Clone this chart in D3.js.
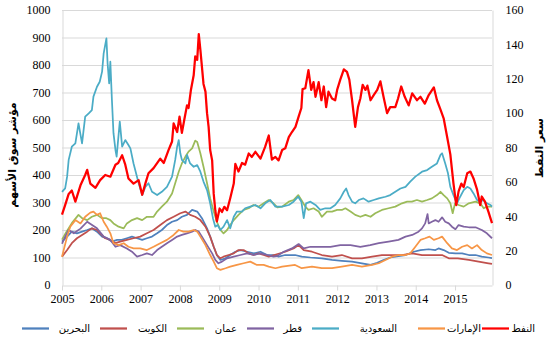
<!DOCTYPE html>
<html><head><meta charset="utf-8">
<script src="https://cdn.jsdelivr.net/npm/d3@7"></script>
<style>body{margin:0;background:#fff}svg{display:block}</style>
</head><body><svg id="c" width="555" height="348"></svg>
<script>
const yearTicks=[2005,2006,2007,2008,2009,2010,2011,2012,2013,2014,2015];
const leftTicks=[0,100,200,300,400,500,600,700,800,900,1000];
const rightTicks=[0,20,40,60,80,100,120,140,160];
const leftTitle="مؤشر سوق الأسهم";
const rightTitle="سعر النفط";
const names=["البحرين","الكويت","عمان","قطر","السعودية","الإمارات","النفط"];
const colors=["#4F81BD","#C0504D","#9BBB59","#8064A2","#4BACC6","#F79646","#FF0000"];

const bahrain=[[2005.00,158],[2005.13,176],[2005.25,194],[2005.38,188],[2005.51,194],[2005.64,200],[2005.76,206],[2005.89,194],[2006.02,176],[2006.14,170],[2006.27,158],[2006.40,164],[2006.52,164],[2006.65,170],[2006.78,176],[2006.91,170],[2007.04,164],[2007.16,170],[2007.29,176],[2007.42,188],[2007.54,200],[2007.67,218],[2007.80,230],[2007.93,236],[2008.05,248],[2008.18,255],[2008.31,273],[2008.44,267],[2008.56,243],[2008.69,206],[2008.77,176],[2008.86,139],[2008.94,109],[2009.03,91],[2009.16,97],[2009.28,109],[2009.41,121],[2009.54,127],[2009.71,121],[2009.88,115],[2010.05,121],[2010.22,109],[2010.39,109],[2010.51,103],[2010.68,109],[2010.93,109],[2011.10,103],[2011.32,100],[2011.61,97],[2011.87,91],[2012.12,88],[2012.38,85],[2012.63,79],[2012.85,73],[2013.02,81],[2013.18,91],[2013.35,100],[2013.56,105],[2013.74,109],[2013.95,121],[2014.12,127],[2014.33,130],[2014.50,127],[2014.58,133],[2014.71,127],[2014.84,117],[2015.01,115],[2015.18,115],[2015.35,109],[2015.52,109],[2015.68,103],[2015.85,100],[2015.94,98]];
const kuwait=[[2005.00,103],[2005.13,127],[2005.25,152],[2005.38,170],[2005.51,182],[2005.64,194],[2005.76,206],[2005.89,200],[2005.97,188],[2006.10,170],[2006.23,164],[2006.36,152],[2006.48,158],[2006.65,164],[2006.82,170],[2006.99,176],[2007.16,188],[2007.33,200],[2007.50,218],[2007.67,236],[2007.84,248],[2008.01,261],[2008.14,267],[2008.26,255],[2008.39,248],[2008.52,236],[2008.65,212],[2008.77,176],[2008.86,139],[2008.94,109],[2009.03,97],[2009.11,103],[2009.24,109],[2009.37,115],[2009.49,127],[2009.62,127],[2009.75,115],[2009.87,109],[2010.00,115],[2010.13,109],[2010.26,103],[2010.40,109],[2010.68,121],[2010.89,133],[2011.02,145],[2011.15,127],[2011.36,121],[2011.61,109],[2011.87,103],[2012.12,109],[2012.38,97],[2012.63,97],[2012.89,103],[2013.14,109],[2013.40,109],[2013.65,109],[2013.91,115],[2014.16,109],[2014.41,109],[2014.67,109],[2014.84,97],[2015.07,97],[2015.35,91],[2015.60,85],[2015.85,79],[2015.94,77]];
const oman=[[2005.00,165],[2005.10,190],[2005.25,225],[2005.42,255],[2005.51,243],[2005.64,236],[2005.76,248],[2005.89,255],[2006.02,243],[2006.13,243],[2006.23,236],[2006.31,224],[2006.44,212],[2006.57,206],[2006.65,224],[2006.78,236],[2006.91,243],[2007.04,236],[2007.16,248],[2007.33,248],[2007.42,267],[2007.54,285],[2007.67,303],[2007.80,333],[2007.88,370],[2007.97,412],[2008.05,442],[2008.14,467],[2008.22,485],[2008.31,497],[2008.39,525],[2008.44,520],[2008.52,479],[2008.60,430],[2008.69,370],[2008.77,315],[2008.86,267],[2008.94,230],[2009.03,200],[2009.11,188],[2009.20,200],[2009.28,218],[2009.37,236],[2009.49,255],[2009.62,273],[2009.75,279],[2009.87,291],[2010.00,285],[2010.13,297],[2010.26,309],[2010.38,297],[2010.48,282],[2010.60,285],[2010.77,303],[2010.89,309],[2011.01,327],[2011.09,309],[2011.19,285],[2011.27,273],[2011.40,279],[2011.53,267],[2011.61,248],[2011.74,267],[2011.87,267],[2012.00,273],[2012.12,273],[2012.21,279],[2012.34,267],[2012.46,255],[2012.59,248],[2012.72,255],[2012.85,248],[2012.97,261],[2013.14,273],[2013.31,279],[2013.48,285],[2013.65,297],[2013.78,303],[2013.90,303],[2014.03,309],[2014.16,303],[2014.29,309],[2014.41,315],[2014.54,327],[2014.63,339],[2014.71,327],[2014.80,315],[2014.88,297],[2014.94,261],[2015.00,297],[2015.09,291],[2015.22,285],[2015.35,297],[2015.52,303],[2015.64,297],[2015.73,279],[2015.81,285],[2015.94,285]];
const qatar=[[2005.00,150],[2005.08,175],[2005.17,200],[2005.30,188],[2005.47,205],[2005.64,230],[2005.89,206],[2006.06,176],[2006.23,164],[2006.36,139],[2006.48,145],[2006.65,133],[2006.78,121],[2006.91,103],[2007.04,109],[2007.16,115],[2007.29,109],[2007.42,127],[2007.54,139],[2007.67,152],[2007.80,164],[2007.93,176],[2008.05,182],[2008.18,188],[2008.31,194],[2008.39,200],[2008.48,194],[2008.56,176],[2008.69,145],[2008.82,115],[2008.90,91],[2008.98,79],[2009.07,85],[2009.20,97],[2009.37,103],[2009.54,109],[2009.71,115],[2009.88,109],[2010.05,115],[2010.22,109],[2010.38,103],[2010.47,105],[2010.64,121],[2010.85,133],[2011.02,149],[2011.15,133],[2011.32,139],[2011.57,139],[2011.83,139],[2012.08,145],[2012.34,145],[2012.59,139],[2012.84,145],[2013.06,152],[2013.31,158],[2013.56,164],[2013.74,176],[2013.91,182],[2014.07,194],[2014.16,206],[2014.24,224],[2014.30,258],[2014.33,224],[2014.41,230],[2014.50,236],[2014.58,230],[2014.67,246],[2014.75,230],[2014.84,224],[2014.92,212],[2015.01,203],[2015.09,218],[2015.22,212],[2015.35,210],[2015.52,210],[2015.68,200],[2015.81,188],[2015.94,170]];
const saudi=[[2005.00,339],[2005.08,351],[2005.13,394],[2005.17,455],[2005.25,503],[2005.34,515],[2005.42,588],[2005.51,515],[2005.59,612],[2005.68,624],[2005.76,636],[2005.80,685],[2005.89,721],[2005.96,739],[2006.02,776],[2006.06,842],[2006.13,897],[2006.16,806],[2006.20,733],[2006.23,812],[2006.27,673],[2006.31,552],[2006.36,491],[2006.39,467],[2006.47,594],[2006.53,503],[2006.61,527],[2006.69,509],[2006.74,497],[2006.82,442],[2006.95,370],[2007.04,327],[2007.12,357],[2007.20,370],[2007.29,339],[2007.42,327],[2007.54,339],[2007.67,357],[2007.80,394],[2007.88,455],[2007.93,503],[2007.97,527],[2008.01,479],[2008.05,455],[2008.14,442],[2008.18,473],[2008.26,442],[2008.35,430],[2008.44,436],[2008.52,412],[2008.60,376],[2008.69,345],[2008.77,297],[2008.84,243],[2008.90,212],[2008.96,218],[2009.03,200],[2009.11,212],[2009.20,236],[2009.28,206],[2009.37,248],[2009.45,267],[2009.58,267],[2009.66,279],[2009.79,285],[2009.92,291],[2010.05,279],[2010.17,297],[2010.30,309],[2010.43,285],[2010.60,285],[2010.77,291],[2010.89,303],[2011.01,321],[2011.09,303],[2011.15,243],[2011.21,297],[2011.32,303],[2011.45,291],[2011.57,273],[2011.70,279],[2011.83,279],[2011.95,291],[2012.08,315],[2012.17,339],[2012.23,351],[2012.29,327],[2012.38,303],[2012.46,297],[2012.55,309],[2012.67,315],[2012.80,303],[2012.93,309],[2013.06,315],[2013.23,321],[2013.35,327],[2013.48,339],[2013.61,351],[2013.74,357],[2013.86,376],[2013.99,394],[2014.16,412],[2014.29,418],[2014.41,430],[2014.54,442],[2014.63,473],[2014.67,479],[2014.75,442],[2014.82,406],[2014.88,357],[2014.96,327],[2015.05,297],[2015.13,321],[2015.22,345],[2015.31,357],[2015.39,351],[2015.47,333],[2015.56,309],[2015.64,303],[2015.72,309],[2015.81,297],[2015.90,291],[2015.94,285]];
const uae=[[2005.00,103],[2005.13,176],[2005.21,212],[2005.34,236],[2005.47,224],[2005.59,248],[2005.72,263],[2005.80,267],[2005.89,255],[2005.97,261],[2006.06,230],[2006.14,212],[2006.23,188],[2006.31,152],[2006.44,145],[2006.57,152],[2006.69,139],[2006.82,133],[2006.99,133],[2007.16,127],[2007.33,139],[2007.50,152],[2007.67,164],[2007.84,182],[2007.97,200],[2008.09,194],[2008.22,194],[2008.35,200],[2008.44,194],[2008.52,176],[2008.65,145],[2008.77,109],[2008.86,85],[2008.94,61],[2009.03,55],[2009.16,61],[2009.28,67],[2009.45,73],[2009.62,79],[2009.79,85],[2009.96,73],[2010.13,73],[2010.26,67],[2010.43,61],[2010.60,67],[2010.93,73],[2011.10,61],[2011.36,67],[2011.61,61],[2011.87,61],[2012.12,67],[2012.38,73],[2012.63,67],[2012.89,73],[2013.06,79],[2013.23,91],[2013.40,103],[2013.57,109],[2013.74,109],[2013.86,115],[2013.99,139],[2014.12,164],[2014.24,170],[2014.35,176],[2014.46,164],[2014.58,170],[2014.67,176],[2014.80,152],[2014.92,133],[2015.05,127],[2015.18,139],[2015.31,145],[2015.43,133],[2015.56,145],[2015.68,127],[2015.81,115],[2015.94,109]];
const oil=[[2005.00,41],[2005.08,46.5],[2005.17,53],[2005.25,55],[2005.34,48.5],[2005.47,58],[2005.59,64],[2005.64,67],[2005.72,59],[2005.85,56.5],[2005.97,61],[2006.10,64],[2006.23,63],[2006.36,70],[2006.43,71],[2006.53,75.5],[2006.61,70],[2006.69,62],[2006.82,59],[2006.95,61],[2007.04,52.5],[2007.12,59],[2007.20,65],[2007.33,68],[2007.50,73.5],[2007.59,71],[2007.71,78.5],[2007.80,83.5],[2007.84,94],[2007.93,89],[2007.99,98],[2008.05,88.5],[2008.11,96],[2008.18,104.5],[2008.22,103],[2008.28,113.5],[2008.35,122],[2008.39,133],[2008.44,131],[2008.48,146],[2008.52,137],[2008.60,117],[2008.65,112.5],[2008.69,100],[2008.73,92],[2008.77,78.5],[2008.82,72.5],[2008.86,53],[2008.90,43.5],[2008.94,37],[2009.01,44.5],[2009.07,42.5],[2009.13,45.5],[2009.20,43.5],[2009.28,50.5],[2009.37,59],[2009.41,70.5],[2009.49,66],[2009.58,71],[2009.66,70],[2009.75,76.5],[2009.83,74.5],[2009.92,77.5],[2010.05,73.5],[2010.17,80.5],[2010.26,87],[2010.34,73],[2010.43,74.5],[2010.51,72.5],[2010.60,78.5],[2010.68,79.5],[2010.77,86],[2010.85,89],[2010.94,92],[2011.02,98],[2011.09,103],[2011.12,114],[2011.19,114.5],[2011.27,125],[2011.34,113.5],[2011.40,118],[2011.45,109.5],[2011.53,118],[2011.60,107.5],[2011.66,115.5],[2011.72,103.5],[2011.78,112.5],[2011.87,108.5],[2011.95,107.5],[2012.00,113.5],[2012.08,119.5],[2012.17,125.5],[2012.25,124],[2012.31,119.5],[2012.38,107.5],[2012.46,92],[2012.53,103.5],[2012.59,108.5],[2012.65,116.5],[2012.72,113.5],[2012.77,116],[2012.85,107.5],[2012.93,110.5],[2013.02,113.5],[2013.10,118.5],[2013.18,109.5],[2013.27,100],[2013.35,103.5],[2013.48,103.5],[2013.55,108.5],[2013.63,115.5],[2013.72,109.5],[2013.82,104.5],[2013.91,111.5],[2014.03,107.5],[2014.12,109.5],[2014.23,105.5],[2014.33,110.5],[2014.46,115],[2014.54,107.5],[2014.63,102],[2014.71,97],[2014.80,86],[2014.88,76],[2014.96,59],[2015.03,46.5],[2015.09,54.5],[2015.16,59],[2015.22,57],[2015.31,65],[2015.39,66],[2015.47,62],[2015.56,55.5],[2015.64,46.5],[2015.68,51.5],[2015.76,48.5],[2015.85,42.5],[2015.94,36]];

const seriesData=[bahrain,kuwait,oman,qatar,saudi,uae,oil];

const L=62,R=492,T=10,B=285;
const svg=d3.select("#c");
const x=d3.scaleLinear().domain([2005,2015.94]).range([L,R]);
const yL=d3.scaleLinear().domain([0,1000]).range([B,T]);
const yR=d3.scaleLinear().domain([0,160]).range([B,T]);
const numFont="'Liberation Serif','Times New Roman',serif";

// gridlines
svg.append("g").selectAll("line").data(leftTicks.filter(d=>d>0)).join("line")
  .attr("x1",L).attr("x2",R).attr("y1",d=>yL(d)+0.5).attr("y2",d=>yL(d)+0.5)
  .attr("stroke","#D9D9D9").attr("stroke-width",1);

// left axis
const gl=svg.append("g").attr("transform",`translate(${L+0.5},0)`)
  .call(d3.axisLeft(yL).tickValues(leftTicks).tickSize(0).tickPadding(12).tickFormat(d3.format("d")));
gl.select(".domain").attr("stroke","#D9D9D9");
gl.selectAll("text").attr("font-family",numFont).attr("font-size",12).attr("fill","#000");

// right axis
const gr=svg.append("g").attr("transform",`translate(${R+0.5},0)`)
  .call(d3.axisRight(yR).tickValues(rightTicks).tickSize(0).tickPadding(13).tickFormat(d3.format("d")));
gr.select(".domain").attr("stroke","#D9D9D9");
gr.selectAll("text").attr("font-family",numFont).attr("font-size",12).attr("fill","#000");

// bottom axis
const gb=svg.append("g").attr("transform",`translate(0,${B+0.5})`)
  .call(d3.axisBottom(x).tickValues(yearTicks).tickSize(5).tickSizeOuter(0).tickPadding(4).tickFormat(d3.format("d")));
gb.select(".domain").attr("stroke","#D9D9D9");
gb.selectAll(".tick line").attr("stroke","#D9D9D9");
gb.selectAll("text").attr("font-family",numFont).attr("font-size",12).attr("fill","#000");

// lines
const lineL=d3.line().x(d=>x(d[0])).y(d=>yL(d[1]));
const lineR=d3.line().x(d=>x(d[0])).y(d=>yR(d[1]));
seriesData.forEach((s,i)=>{
  const isOil=i===6;
  svg.append("path").datum(s).attr("d",isOil?lineR:lineL)
    .attr("fill","none").attr("stroke",colors[i])
    .attr("stroke-width",isOil?2.25:1.75).attr("stroke-linejoin","round");
});

// axis titles
svg.append("text").attr("transform","translate(16,155) rotate(-90)")
  .attr("text-anchor","middle").attr("font-family","'DejaVu Sans',sans-serif")
  .attr("font-size",11).attr("font-weight","bold").text(leftTitle);
svg.append("text").attr("transform","translate(543,148) rotate(-90)")
  .attr("text-anchor","middle").attr("font-family","'DejaVu Sans',sans-serif")
  .attr("font-size",11).attr("font-weight","bold").text(rightTitle);

// legend
const legLineX=[22,100,177,247,312,418,482];
const legTextR=[90,167,237,302,397,481,535];
const lg=svg.append("g");
names.forEach((n,i)=>{
  lg.append("line").attr("x1",legLineX[i]).attr("x2",legLineX[i]+27)
    .attr("y1",328.5).attr("y2",328.5).attr("stroke",colors[i]).attr("stroke-width",2.25);
  lg.append("text").attr("x",legTextR[i]).attr("y",332).attr("text-anchor","end")
    .attr("font-family","'DejaVu Sans',sans-serif").attr("font-size",10).attr("fill","#000").text(n);
});
</script></body></html>
